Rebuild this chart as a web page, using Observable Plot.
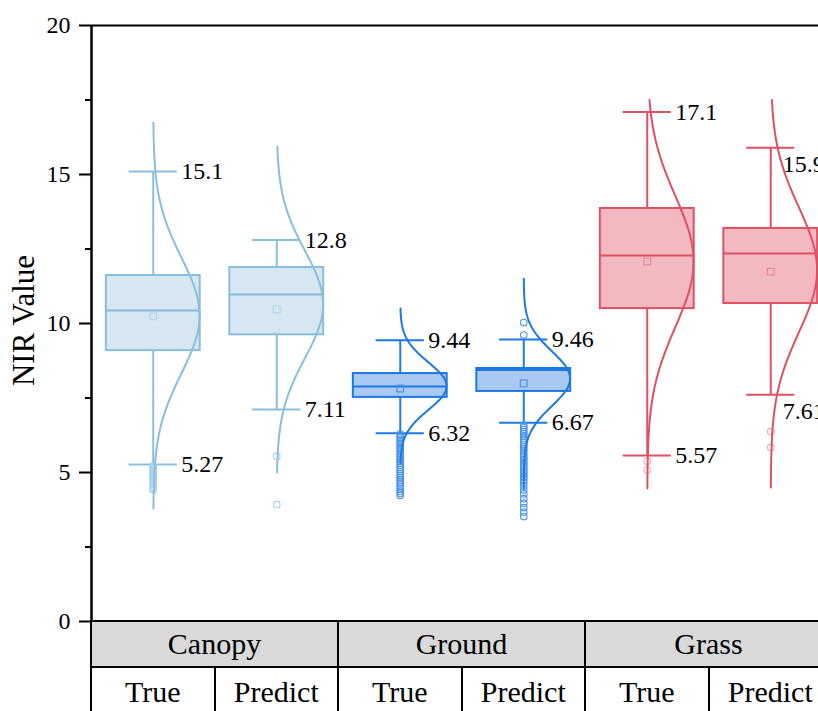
<!DOCTYPE html>
<html><head><meta charset="utf-8">
<script src="https://cdn.jsdelivr.net/npm/d3@7"></script>
<script src="https://cdn.jsdelivr.net/npm/@observablehq/plot@0.6"></script>
<style>
html,body{margin:0;padding:0;background:#fff;overflow:hidden;}
#wrap{position:relative;width:818px;height:711px;overflow:hidden;font-family:"Liberation Serif","Times New Roman",serif;}
#wrap svg{max-width:none;display:block;}
.ln{position:absolute;background:#000;}
.cell{position:absolute;display:flex;align-items:center;justify-content:center;font-size:30px;color:#000;white-space:nowrap;}
</style></head><body><div id="wrap"></div>
<script>
// ---------- data ----------
const groups = ["Canopy", "Ground", "Grass"];
const subgroups = ["True", "Predict"];
const yTicks = [0, 5, 10, 15, 20];
const yMinorTicks = [2.5, 7.5, 12.5, 17.5];
const yLabel = "NIR Value";

// one entry per box (Canopy True, Canopy Predict, Ground True, Ground Predict, Grass True, Grass Predict)
const whiskerLow  = [5.27, 7.11, 6.32, 6.67, 5.57, 7.61];
const q1          = [9.09, 9.62, 7.52, 7.72, 10.50, 10.67];
const median      = [10.44, 10.97, 7.89, 8.44, 12.28, 12.35];
const q3          = [11.61, 11.88, 8.32, 8.49, 13.86, 13.19];
const whiskerHigh = [15.1, 12.8, 9.44, 9.46, 17.1, 15.9];
const mean        = [10.24, 10.47, 7.82, 7.99, 12.08, 11.74];
const outliers = [
  [5.22,5.17,5.12,5.07,5.02,4.97,4.92,4.86,4.80,4.74,4.68,4.61,4.54,4.47,4.42],
  [5.54,3.93],
  [6.29,6.24,6.18,6.12,6.05,5.98,5.92,5.85,5.79,5.72,5.65,5.58,5.52,5.45,5.38,5.31,5.24,5.17,5.10,5.03,4.96,4.89,4.82,4.75,4.68,4.61,4.53,4.45,4.37,4.30,4.23],
  [10.03,9.61,6.58,6.51,6.44,6.37,6.30,6.22,6.15,6.08,6.01,5.93,5.86,5.79,5.72,5.64,5.57,5.50,5.43,5.35,5.28,5.21,5.14,5.06,4.99,4.92,4.84,4.76,4.66,4.54,4.41,4.28,4.12,3.97,3.82,3.67,3.52],
  [5.38,5.08],
  [6.37,5.84]
];
// fitted normal curve parameters
const fitMean   = [10.27, 10.64, 7.90, 8.15, 12.08, 11.80];
const fitSD     = [1.95, 1.81, 0.80, 0.92, 2.20, 2.10];
const curveLow  = [3.79, 5.00, 5.30, 4.46, 4.46, 4.50];
const curveHigh = [16.74, 15.94, 10.50, 11.50, 17.50, 17.50];

// colours per group
const strokeCol  = ["#89bedc", "#1e78e1", "#e05064"];
const fillCol    = ["#d6e7f1", "#a8c9f1", "#f2b9c0"];
const outlierCol = ["#a6d0ea", "#4a93ea", "#f6a8bb"];
const meanCol    = ["#b4d6ec", "#4d93e6", "#e88a98"];

// ---------- build ----------
const BOX_HALF = 0.38, CAP_HALF = 0.195, CURVE_AMP = 0.375;
const rows = [];
groups.forEach((g, gi) => subgroups.forEach((s, si) => {
  const i = gi * subgroups.length + si;
  rows.push({i, g, s, c: i + 0.5, lo: whiskerLow[i], q1: q1[i], med: median[i], q3: q3[i], hi: whiskerHigh[i],
    mean: mean[i], stroke: strokeCol[gi], fill: fillCol[gi], oc: outlierCol[gi], mc: meanCol[gi]});
}));
const outRows = rows.flatMap(r => outliers[r.i].map(v => ({c: r.c, v, col: r.oc})));
const curvePts = rows.flatMap(r => {
  const n = 140, a = curveLow[r.i], b = curveHigh[r.i];
  return d3.range(n + 1).map(k => {
    const y = a + (b - a) * k / n;
    const z = (y - fitMean[r.i]) / fitSD[r.i];
    return {i: r.i, y, x: r.c + CURVE_AMP * Math.exp(-0.5 * z * z), col: r.stroke};
  });
});
const last = rows.length - 1;
const labelRows = rows.flatMap(r => [{c: r.c, v: r.hi, i: r.i}, {c: r.c, v: r.lo, i: r.i}]);
const fmt = d3.format(".3");

const plot = Plot.plot({
  width: 818, height: 711,
  marginTop: 25, marginBottom: 90, marginLeft: 91, marginRight: 0,
  style: {fontFamily: "'Liberation Serif', 'Times New Roman', serif", fontSize: "24px", color: "black", background: "white", overflow: "hidden"},
  x: {domain: [0, rows.length], range: [91, 91 + 123.5 * rows.length], axis: null},
  y: {domain: [0, 20]},
  color: {type: "identity"},
  marks: [
    Plot.rect(rows, {x1: d => d.c - BOX_HALF, x2: d => d.c + BOX_HALF, y1: "q1", y2: "q3", fill: "fill", stroke: "stroke", strokeWidth: 2}),
    Plot.ruleX(rows, {x: "c", y1: "q3", y2: "hi", stroke: "stroke", strokeWidth: 2}),
    Plot.ruleX(rows, {x: "c", y1: "lo", y2: "q1", stroke: "stroke", strokeWidth: 2}),
    Plot.ruleY(rows, {y: "hi", x1: d => d.c - CAP_HALF, x2: d => d.c + CAP_HALF, stroke: "stroke", strokeWidth: 2}),
    Plot.ruleY(rows, {y: "lo", x1: d => d.c - CAP_HALF, x2: d => d.c + CAP_HALF, stroke: "stroke", strokeWidth: 2}),
    Plot.ruleY(rows, {y: "med", x1: d => d.c - BOX_HALF, x2: d => d.c + BOX_HALF, stroke: "stroke", strokeWidth: 2}),
    Plot.dot(rows, {x: "c", y: "mean", symbol: "square", r: 3.8, stroke: "mc", fill: "none", strokeWidth: 1.2}),
    Plot.dot(outRows, {x: "c", y: "v", r: 3.3, stroke: "col", fill: "none", strokeWidth: 1.1}),
    Plot.line(curvePts, {x: "x", y: "y", z: "i", stroke: "col", strokeWidth: 2, curve: "linear"}),
    Plot.text(labelRows.filter(d => d.i !== last), {x: "c", y: "v", text: d => fmt(d.v), textAnchor: "start", dx: 28, fontSize: 24, fill: "black"}),
    Plot.text(labelRows.filter(d => d.i === last), {x: "c", y: "v", text: d => fmt(d.v), textAnchor: "start", dx: 12, dy: 17, fontSize: 24, fill: "black"}),
    Plot.ruleY([20], {stroke: "black", strokeWidth: 2}),
    Plot.ruleX([0], {y1: 0, y2: 20, stroke: "black", strokeWidth: 2.5}),
    Plot.axisY({ticks: yTicks, tickSize: 12, tickPadding: 9, label: null, fontSize: 24, strokeWidth: 2, fill: "black"}),
    Plot.axisY({ticks: yMinorTicks, tickSize: 6, tickFormat: () => "", label: null, strokeWidth: 2}),
    Plot.text([yLabel], {frameAnchor: "left", rotate: -90, dx: -67, dy: -3, text: d => d, textAnchor: "middle", lineAnchor: "middle", fontSize: 31, fill: "black"})
  ]
});
const wrap = document.getElementById("wrap");
wrap.appendChild(plot);

// ---------- category table below the axis ----------
const xs = plot.scale("x"), ys = plot.scale("y");
const X = v => xs.apply(v);
const y0 = ys.apply(0);
const row1H = 46, row2H = 50;
const add = (cls, css, txt) => { const d = document.createElement("div"); d.className = cls; Object.assign(d.style, css); if (txt) d.textContent = txt; wrap.appendChild(d); return d; };
const n = rows.length, gw = subgroups.length;
// grey header row
add("ln", {left: X(0) + "px", top: y0 + "px", width: (X(n) - X(0)) + "px", height: row1H + "px", background: "#d9d9d9"});
groups.forEach((g, gi) => add("cell", {left: X(gi * gw) + "px", top: y0 + "px", width: (X((gi + 1) * gw) - X(gi * gw)) + "px", height: row1H + "px"}, g));
rows.forEach(r => add("cell", {left: X(r.i) + "px", top: (y0 + row1H) + "px", width: (X(r.i + 1) - X(r.i)) + "px", height: row2H + "px"}, r.s));
// lines
add("ln", {left: (X(0) - 1) + "px", top: (y0 - 1) + "px", width: (X(n) - X(0) + 2) + "px", height: "2px"});
add("ln", {left: (X(0) - 1) + "px", top: (y0 + row1H - 1) + "px", width: (X(n) - X(0) + 2) + "px", height: "2px"});
for (let k = 0; k <= n; k++) {
  const major = k % gw === 0;
  add("ln", {left: (X(k) - 1) + "px", top: (major ? y0 : y0 + row1H) + "px", width: "2px", height: (major ? row1H + row2H : row2H) + "px"});
}
</script></body></html>
